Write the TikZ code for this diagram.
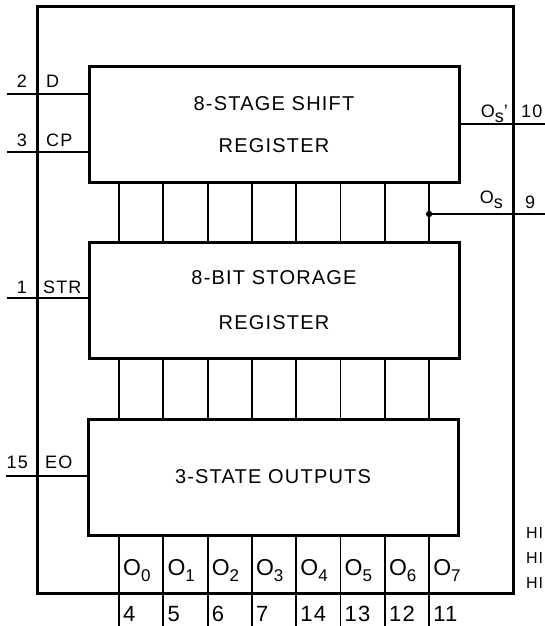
\documentclass[tikz,border=0pt]{standalone}
\usepackage{fontspec}
\newfontfamily\chipfont{Liberation Sans}[LetterSpace=6]
\usepackage{tikz}
\usetikzlibrary{positioning,calc}

\newcommand{\osub}[2]{#1\raisebox{-6pt}{\fontsize{17}{17}\selectfont #2}}

\begin{document}
\begin{tikzpicture}[x=1pt,y=-1pt,
    blk/.style={draw, line width=3pt, minimum width=370pt, minimum height=116pt, inner sep=0pt, align=center, font=\chipfont\fontsize{20}{24}\selectfont},
    wire/.style={line width=1.8pt},
    lbl/.style={inner sep=0pt, font=\chipfont\fontsize{18}{21.6}\selectfont},
    outlbl/.style={inner sep=0pt, font=\chipfont\fontsize{23}{27}\selectfont},
    pinnum/.style={inner sep=0pt, font=\chipfont\fontsize{22}{26}\selectfont}]
    \useasboundingbox (0,0) rectangle (544,626);
    \draw[line width=3pt] (37,7) rectangle (513,593);
    \node[blk] (shift) at (274,124.5) {8-STAGE SHIFT\\[18pt]REGISTER};
    \node[blk] (store) at (274,300) {8-BIT STORAGE\\[21pt]REGISTER};
    \node[blk] (outs) at (273,477) {3-STATE OUTPUTS};
    \coordinate (pD) at (7,94);
    \coordinate (pCP) at (7,152);
    \coordinate (pSTR) at (7,298);
    \coordinate (pEO) at (6,476);
    \coordinate (pQsp) at (546,124);
    \coordinate (pQs) at (546,214);
    \coordinate (bot) at (0,628);
    \foreach \p in {pD,pCP} {
        \draw[wire] (\p) -- (\p -| shift.west);
    }
    \draw[wire] (pSTR) -- (pSTR -| store.west);
    \draw[wire] (pEO) -- (pEO -| outs.west);
    \draw[wire] (shift.east |- pQsp) -- (pQsp);
    \foreach \i/\p in {0/4,1/5,2/6,3/7,4/14,5/13,6/12,7/11} {
        \coordinate (c\i) at (119+44.3*\i,0);
        \draw[wire] (c\i |- shift.south) -- (c\i |- store.north);
        \draw[wire] (c\i |- store.south) -- (c\i |- outs.north);
        \draw[wire] (c\i |- outs.south) -- (c\i |- bot);
        \node[outlbl, anchor=base west] (o\i) at ($(c\i)+(4,575)$) {\osub{O}{\i}};
        \node[pinnum, anchor=base west] (n\i) at ($(c\i)+(4,621)$) {\p};
    }
    \fill (c7 |- pQs) circle (3.2);
    \draw[wire] (c7 |- pQs) -- (pQs);
    \node[lbl, anchor=base east] (n2) at (27,87) {2};
    \node[lbl, anchor=base west] (lD) at (46,87) {D};
    \node[lbl, anchor=base east] (n3) at (27,146) {3};
    \node[lbl, anchor=base west] (lCP) at (46,146) {CP};
    \node[lbl, anchor=base east] (n1) at (27,293) {1};
    \node[lbl, anchor=base west] (lSTR) at (43,293) {STR};
    \node[lbl, anchor=base east] (n15) at (28,468) {15};
    \node[lbl, anchor=base west] (lEO) at (45,468) {EO};
    \node[lbl, anchor=base east] (lQsp) at (508,117) {O\raisebox{-5pt}{s}’};
    \node[lbl, anchor=base west] (n10) at (521,117) {10};
    \node[lbl, anchor=base east] (lQs) at (503,203) {O\raisebox{-5pt}{s}};
    \node[lbl, anchor=base west] (n9) at (525,208) {9};
    \foreach \y in {538,563,588} {
        \node[lbl, font=\chipfont\fontsize{16}{19}\selectfont, anchor=base west] at (526,\y) {HI};
    }
\end{tikzpicture}
\end{document}
